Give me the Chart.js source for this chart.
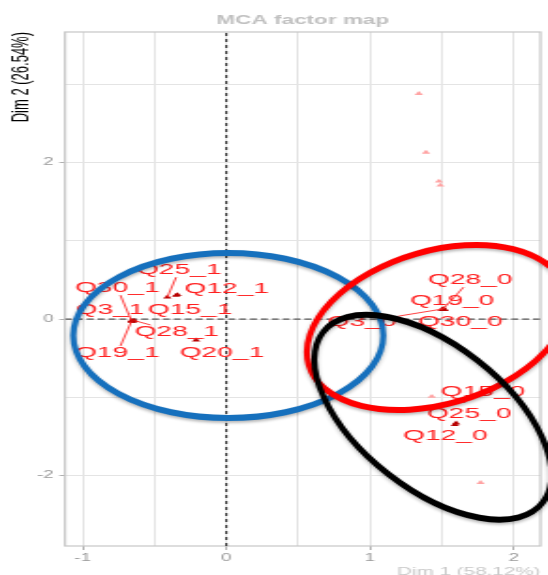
<!DOCTYPE html>
<html>
<head>
<meta charset="utf-8">
<script src="https://cdn.jsdelivr.net/npm/chart.js@4.4.1/dist/chart.umd.min.js"></script>
<style>
  html, body { margin: 0; padding: 0; background: #fff; overflow: hidden; }
  #plot { display: block; transform-origin: 0 0; }
</style>
</head>
<body>
<canvas id="plot" width="292" height="575"></canvas>
<script>
// Selected categories and their coordinates on Dim 1 / Dim 2
const categories = ['Q25_1', 'Q30_1', 'Q12_1', 'Q3_1', 'Q15_1', 'Q28_1', 'Q19_1', 'Q20_1',
                    'Q28_0', 'Q19_0', 'Q30_0', 'Q3_0', 'Q15_0', 'Q25_0', 'Q12_0'];
const dim1 = [-0.41, -0.66, -0.34, -0.65, -0.35, -0.64, -0.66, -0.21,
               1.51, 1.52, 1.50, 1.51, 1.64, 1.60, 1.59];
const dim2 = [0.28, -0.02, 0.31, -0.03, 0.30, -0.02, -0.03, -0.27,
              0.13, 0.12, 0.12, 0.13, -1.05, -1.33, -1.35];

// Remaining (unselected) categories, drawn faded
const otherDim1 = [1.34, 1.39, 1.48, 1.49, 1.43, 1.77];
const otherDim2 = [2.88, 2.13, 1.76, 1.71, -0.99, -2.09];

// Axis ticks and grid
const xTickValues = [-1, 0, 1, 2];
const xTickLabels = ['-1', '0', '1', '2'];
const yTickValues = [-2, 0, 2];
const yTickLabels = ['-2', '0', '2'];
const xGridValues = [-1, -0.5, 0, 0.5, 1, 1.5, 2];
const yGridValues = [-2, -1, 0, 1, 2, 3];
const xRange = [-1.123, 2.187];
const yRange = [-2.90, 3.668];

// The plot is rendered narrow and widened horizontally
const STRETCH = 548 / 292;
const canvas = document.getElementById('plot');
canvas.style.transform = 'scaleX(' + STRETCH + ')';

// Repelled label anchors (Dim 1 / Dim 2 units), same order as categories
const labelX = [-0.328, -0.759, 0.003, -0.81, -0.252, -0.345, -0.759, -0.031,
                 1.697, 1.572, 1.628, 0.945, 1.786, 1.69, 1.524];
const labelY = [0.624, 0.395, 0.382, 0.115, 0.115, -0.166, -0.433, -0.433,
                0.497, 0.229, -0.038, -0.038, -0.93, -1.21, -1.49];

// Hand-drawn groupings: centre in data units, radii in screen pixels
const rings = [
  { color: '#1670bd', x: 0.014, y: -0.21,  rx: 155, ry: 82.5, tilt: 0 },
  { color: '#ff0000', x: 1.469, y: -0.108, rx: 134, ry: 76.7, tilt: -16.1 },
  { color: '#000000', x: 1.438, y: -1.255, rx: 139, ry: 72.3, tilt: 37.7 }
];

const panelFrame = {
  id: 'panelFrame',
  beforeDatasetsDraw(chart) {
    const { ctx, chartArea: a } = chart;
    ctx.save();
    ctx.strokeStyle = '#c6c6c6';
    ctx.lineWidth = 1.2;
    ctx.strokeRect(a.left, a.top, a.right - a.left, a.bottom - a.top);
    ctx.restore();
  }
};

// Labels with leader segments running from the label box towards its point
const repelLabels = {
  id: 'repelLabels',
  afterDatasetsDraw(chart) {
    const { ctx, scales: { x, y } } = chart;
    ctx.save();
    ctx.font = '15px "Liberation Sans", Arial, sans-serif';
    ctx.textAlign = 'center';
    ctx.textBaseline = 'middle';
    categories.forEach((name, i) => {
      const px = x.getPixelForValue(dim1[i]);
      const py = y.getPixelForValue(dim2[i]);
      const lx = x.getPixelForValue(labelX[i]);
      const ly = y.getPixelForValue(labelY[i]);
      const hw = ctx.measureText(name).width / 2 + 1;
      const hh = 7;
      const dx = px - lx, dy = py - ly;
      // where the centre-to-point line leaves the label box
      const tx = dx !== 0 ? hw / Math.abs(dx) : Infinity;
      const ty = dy !== 0 ? hh / Math.abs(dy) : Infinity;
      const t = Math.min(tx, ty);
      if (t >= 1) return;
      const sx = lx + dx * t, sy = ly + dy * t;
      if (Math.hypot((px - sx) * STRETCH, py - sy) > 16) {
        ctx.beginPath();
        ctx.moveTo(sx, sy);
        ctx.lineTo(px, py);
        ctx.strokeStyle = '#ff2a2a';
        ctx.lineWidth = 0.9;
        ctx.stroke();
      }
    });
    ctx.fillStyle = '#ff1f1f';
    categories.forEach((name, i) => {
      ctx.fillText(name, x.getPixelForValue(labelX[i]), y.getPixelForValue(labelY[i]));
    });
    ctx.restore();
  }
};

const groupRings = {
  id: 'groupRings',
  afterDraw(chart) {
    const { ctx, scales: { x, y } } = chart;
    ctx.save();
    ctx.scale(1 / STRETCH, 1);
    rings.forEach(r => {
      ctx.beginPath();
      ctx.ellipse(x.getPixelForValue(r.x) * STRETCH, y.getPixelForValue(r.y),
                  r.rx, r.ry, r.tilt * Math.PI / 180, 0, Math.PI * 2);
      ctx.lineWidth = 6;
      ctx.strokeStyle = r.color;
      ctx.shadowColor = 'rgba(0,0,0,0.28)';
      ctx.shadowBlur = 3;
      ctx.shadowOffsetY = 2;
      ctx.stroke();
    });
    ctx.restore();
  }
};

const tickText = (values, labels) => v => {
  const i = values.indexOf(v);
  return i >= 0 ? labels[i] : '';
};

new Chart(canvas, {
  type: 'scatter',
  data: {
    datasets: [
      {
        data: dim1.map((v, i) => ({ x: v, y: dim2[i] })),
        pointStyle: 'triangle',
        pointRadius: 2.6,
        backgroundColor: '#b80000',
        borderWidth: 0
      },
      {
        data: otherDim1.map((v, i) => ({ x: v, y: otherDim2[i] })),
        pointStyle: 'triangle',
        pointRadius: 2.6,
        backgroundColor: '#ffa3a3',
        borderWidth: 0
      },
      {
        data: [{ x: 0, y: yRange[0] }, { x: 0, y: yRange[1] }],
        showLine: true,
        pointRadius: 0,
        borderColor: '#2a2a2a',
        borderWidth: 1.1,
        borderDash: [3, 3]
      },
      {
        data: [{ x: xRange[0], y: 0 }, { x: xRange[1], y: 0 }],
        showLine: true,
        pointRadius: 0,
        borderColor: '#555555',
        borderWidth: 1.2,
        borderDash: [3.7, 2.1]
      }
    ]
  },
  options: {
    responsive: false,
    animation: false,
    events: [],
    devicePixelRatio: 1,
    layout: { padding: { left: 0, right: 1.6, top: 0, bottom: 0 } },
    plugins: {
      legend: { display: false },
      tooltip: { enabled: false },
      title: {
        display: true,
        text: 'MCA factor map',
        fullSize: false,
        color: '#c0c0c0',
        font: { family: '"Liberation Sans", Arial, sans-serif', size: 12, weight: 'bold' },
        padding: { top: 13.8, bottom: 3.8 }
      }
    },
    scales: {
      x: {
        type: 'linear',
        min: xRange[0],
        max: xRange[1],
        afterBuildTicks: s => { s.ticks = xGridValues.map(v => ({ value: v })); },
        afterFit: s => { s.height = 29; },
        ticks: {
          callback: tickText(xTickValues, xTickLabels),
          autoSkip: false,
          maxRotation: 0,
          color: '#9a9a9a',
          font: { family: '"Liberation Sans", Arial, sans-serif', size: 10 },
          padding: 2
        },
        grid: {
          color: '#e4e4e4',
          lineWidth: 1,
          tickLength: 4,
          tickColor: c => xTickValues.includes(c.tick.value) ? '#b0b0b0' : 'rgba(0,0,0,0)'
        },
        border: { display: false },
        title: {
          display: true,
          text: 'Dim 1 (58.12%)',
          align: 'end',
          color: '#c8c8c8',
          font: { family: '"Liberation Sans", Arial, sans-serif', size: 11 },
          padding: { top: 0, bottom: -4 }
        }
      },
      y: {
        type: 'linear',
        min: yRange[0],
        max: yRange[1],
        afterBuildTicks: s => { s.ticks = yGridValues.map(v => ({ value: v })); },
        afterFit: s => { s.width = 34.6; },
        ticks: {
          callback: tickText(yTickValues, yTickLabels),
          autoSkip: false,
          color: '#9a9a9a',
          font: { family: '"Liberation Sans", Arial, sans-serif', size: 10 },
          padding: 3
        },
        grid: {
          color: '#e4e4e4',
          lineWidth: 1,
          tickLength: 3,
          tickColor: c => yTickValues.includes(c.tick.value) ? '#b0b0b0' : 'rgba(0,0,0,0)'
        },
        border: { display: false },
        title: {
          display: true,
          text: 'Dim 2 (26.54%)',
          align: 'end',
          color: '#000000',
          font: { family: '"Liberation Sans", Arial, sans-serif', size: 13 },
          padding: { top: 4, bottom: 0 }
        }
      }
    }
  },
  plugins: [panelFrame, repelLabels, groupRings]
});
</script>
</body>
</html>
